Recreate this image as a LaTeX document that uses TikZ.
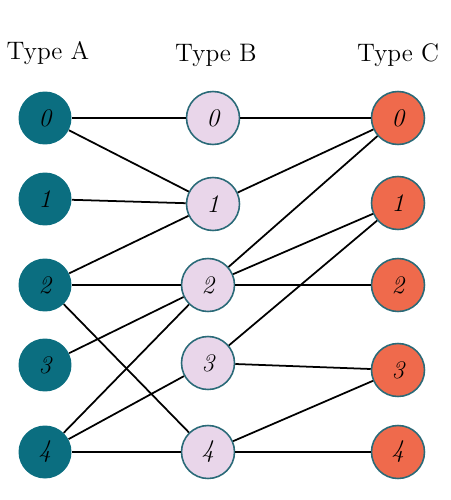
\documentclass[tikz,border=0pt]{standalone}
\definecolor{tealnode}{HTML}{0B6E80}
\definecolor{lilacnode}{HTML}{E9D6EA}
\definecolor{coralnode}{HTML}{EF6A4C}
\definecolor{rimcol}{HTML}{2A6A78}
\usepackage{xcolor}
\usepackage{tikz}

\begin{document}
\begin{tikzpicture}[x=0.02cm, y=-0.02cm]
    \tikzstyle{vert}=[circle, minimum size=1.06cm, inner sep=0pt, font=\Large\itshape]
    \tikzstyle{typea}=[vert, fill=tealnode]
    \tikzstyle{typeb}=[vert, fill=lilacnode, draw=rimcol, line width=0.9pt]
    \tikzstyle{typec}=[vert, fill=coralnode, draw=rimcol, line width=0.9pt]
    \tikzstyle{head}=[font=\Large]
    \tikzstyle{edge}=[draw=black, line width=1pt]

    \useasboundingbox (0,0) rectangle (450,500);

    \node[head] (ha) at (48,53)  {Type A};
    \node[head] (hb) at (216,55) {Type B};
    \node[head] (hc) at (398,55) {Type C};

    \node[typea] (a0) at (45,118) {0};
    \node[typea] (a1) at (45,199) {1};
    \node[typea] (a2) at (45,285) {2};
    \node[typea] (a3) at (45,365) {3};
    \node[typea] (a4) at (45,452) {4};

    \node[typeb] (b0) at (213,118) {0};
    \node[typeb] (b1) at (213,204) {1};
    \node[typeb] (b2) at (208,285) {2};
    \node[typeb] (b3) at (208,363) {3};
    \node[typeb] (b4) at (208,452) {4};

    \node[typec] (c0) at (398,118) {0};
    \node[typec] (c1) at (398,203) {1};
    \node[typec] (c2) at (398,285) {2};
    \node[typec] (c3) at (398,370) {3};
    \node[typec] (c4) at (398,452) {4};

    \draw[edge] (a0) -- (b0);
    \draw[edge] (a0) -- (b1);
    \draw[edge] (a1) -- (b1);
    \draw[edge] (a2) -- (b1);
    \draw[edge] (a2) -- (b2);
    \draw[edge] (a2) -- (b4);
    \draw[edge] (a3) -- (b2);
    \draw[edge] (a4) -- (b2);
    \draw[edge] (a4) -- (b3);
    \draw[edge] (a4) -- (b4);

    \draw[edge] (b0) -- (c0);
    \draw[edge] (b1) -- (c0);
    \draw[edge] (b2) -- (c0);
    \draw[edge] (b2) -- (c1);
    \draw[edge] (b2) -- (c2);
    \draw[edge] (b3) -- (c1);
    \draw[edge] (b3) -- (c3);
    \draw[edge] (b4) -- (c3);
    \draw[edge] (b4) -- (c4);
  \end{tikzpicture}
\end{document}
